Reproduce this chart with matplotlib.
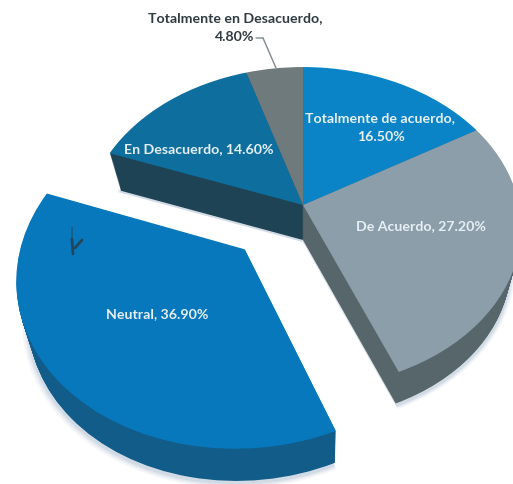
import numpy as np
import matplotlib
matplotlib.use("Agg")
import matplotlib.pyplot as plt
from matplotlib import transforms as mtransforms

labels = ["Totalmente de acuerdo", "De Acuerdo", "Neutral", "En Desacuerdo", "Totalmente en Desacuerdo"]
values = [16.5, 27.2, 36.9, 14.6, 4.8]
explode = [0, 0, 0.375, 0, 0]
top_colors = ["#0a84c6", "#8c9ea9", "#0878bd", "#0e6e9e", "#6f7a7c"]
side_colors = ["#0a5f8f", "#56666a", "#125c8a", "#1d4354", "#4a5254"]


class Perspective(mtransforms.Transform):
    input_dims = 2
    output_dims = 2
    is_separable = False
    has_inverse = False

    def __init__(self, cx, cy, a, b, k):
        super().__init__()
        self.p = (cx, cy, a, b, k)

    def transform_non_affine(self, values):
        cx, cy, a, b, k = self.p
        v = np.asarray(values, dtype=float)
        d = 1 + k * v[:, 1]
        return np.column_stack([cx + a * v[:, 0] / d, cy - b * v[:, 1] / d])


fig = plt.figure(figsize=(5.13, 4.85), dpi=100)
ax = fig.add_axes([0, 0, 1, 1])


def layer(t, colors, alpha=None, grow=1.0, dx=0, dy=0):
    cx = 303 + dx
    cy = 206 + 35 * t + dy
    a = (216 + (205 - 216) * t) * grow
    b = (157.4 + (151 - 157.4) * t) * grow
    k = 0.141 + (0.160 - 0.141) * t
    wedges, _ = ax.pie(values, explode=explode, startangle=90, counterclock=False,
                       colors=colors, radius=1,
                       wedgeprops=dict(linewidth=0, edgecolor="none", alpha=alpha))
    tr = Perspective(cx, cy, a, b, k) + ax.transData
    for w in wedges:
        w.set_transform(tr)
        w.set_clip_on(True)


for grow, a_ in [(1.022, 0.12), (1.014, 0.18), (1.007, 0.25)]:
    layer(1.0, ["#9fb4c8"] * 5, alpha=a_, grow=grow, dy=2)
for t in np.linspace(1, 0.02, 40):
    layer(t, side_colors)
layer(0, top_colors)

ax.set_xlim(0, 513)
ax.set_ylim(485, 0)
ax.set_aspect("auto")
ax.axis("off")

font = ["Lato", "DejaVu Sans"]
dark = "#2f3b40"
white = "#e6eff5"
fs = 10.2
txt = dict(ha="center", va="center", family=font, fontweight="bold", fontsize=fs)
ax.text(235, 18, "Totalmente en Desacuerdo,", color=dark, **txt)
ax.text(235, 37, "4.80%", color=dark, **txt)
ax.text(380, 118, "Totalmente de acuerdo,", color=white, **txt)
ax.text(381, 137, "16.50%", color=white, **txt)
ax.text(199, 149, "En Desacuerdo, 14.60%", color=white, **txt)
ax.text(421, 226, "De Acuerdo, 27.20%", color=white, **txt)
ax.text(157, 314, "Neutral, 36.90%", color=white, **txt)

line = dict(arrowstyle="-", color="#7f8a90", lw=1, shrinkA=0, shrinkB=0)
ax.annotate("", xy=(263, 39), xytext=(256, 39), arrowprops=line)
ax.annotate("", xy=(276, 69), xytext=(263, 39), arrowprops=line)

ink = dict(arrowstyle="-", color="#24465a", shrinkA=0, shrinkB=0)
ax.annotate("", xy=(72, 240), xytext=(72, 228), arrowprops=dict(lw=0.7, **ink))
ax.annotate("", xy=(73, 255), xytext=(72, 240), arrowprops=dict(lw=2.0, **ink))
ax.annotate("", xy=(75, 249), xytext=(82, 241), arrowprops=dict(lw=2.0, **ink))

fig.savefig("out.png", dpi=100, facecolor="white")
